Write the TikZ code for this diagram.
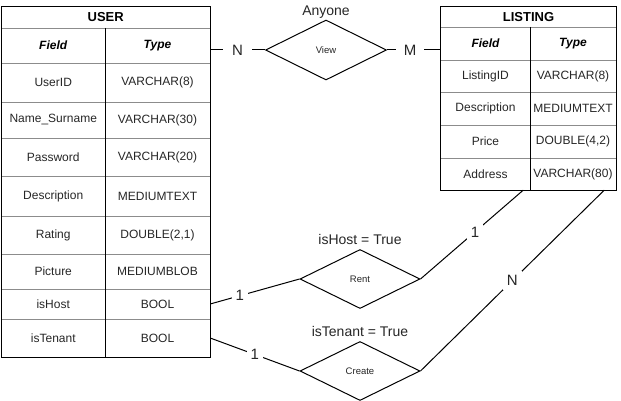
\documentclass[tikz,border=0pt]{standalone}
\usepackage{fontspec}
\setmainfont{Liberation Sans}
\usetikzlibrary{shapes.geometric,calc}
\definecolor{rowgray}{gray}{0.55}
\newcommand\mkcell[7][]{%
  \node[cell,#1,minimum width={(#4-#3)*1pt},minimum height={(#6-#5)*1pt}] (#2) at ({(#3+#4)/2},{(#5+#6)/2}) {#7};}
\begin{document}
\begin{tikzpicture}[x=1pt,y=-1pt,
  cell/.style={inner sep=0pt,draw=none,font=\fontsize{12}{14}\selectfont,text=black!85},
  headcell/.style={font=\fontsize{13}{15}\selectfont\bfseries,text=black},
  colhead/.style={font=\fontsize{12}{14}\selectfont\bfseries\itshape,text=black},
  rowline/.style={draw=rowgray,line width=1pt},
  frame/.style={draw=black,line width=1pt},
  rel/.style={diamond,draw=black,line width=1pt,inner sep=0pt,minimum width=120pt,minimum height=59pt,font=\fontsize{9.5}{11}\selectfont,text=black!85},
  relcap/.style={anchor=base,inner sep=0pt,font=\fontsize{14}{16}\selectfont,text=black!85},
  conn/.style={draw=black,line width=1pt},
  card/.style={fill=white,inner sep=4pt,font=\fontsize{15}{17}\selectfont,text=black!85},
]
\useasboundingbox (0,0) rectangle (621,401);

% USER table
\mkcell[headcell]{uh}{1.5}{210}{7}{28}{USER}
\mkcell[colhead]{u1-f}{1.5}{105}{28}{63}{Field}
\mkcell[colhead]{u1-t}{105}{210}{28}{63}{Type}
\foreach \n/\ya/\yb/\f/\t in {2/63/102/UserID/VARCHAR(8), 3/102/138/Name\_Surname/VARCHAR(30), 4/138/176/Password/VARCHAR(20), 5/176/216/Description/MEDIUMTEXT, 6/216/254/Rating/{DOUBLE(2,1)}, 7/254/289/Picture/MEDIUMBLOB, 8/289/319/isHost/BOOL, 9/319/357/isTenant/BOOL}{
  \mkcell{u\n-f}{1.5}{105}{\ya}{\yb}{\f}
  \mkcell{u\n-t}{105}{210}{\ya}{\yb}{\t}
}
\draw[rowline] (uh.south west) -- (uh.south east);
\foreach \n in {1,...,8} \draw[rowline] (u\n-f.south west) -- (u\n-t.south east);
\draw[frame] (uh.north west) rectangle (u9-t.south east);
\draw[frame] (u1-f.north east) -- (u9-f.south east);

% LISTING table
\mkcell[headcell]{lh}{441}{616}{7}{27}{LISTING}
\mkcell[colhead]{l1-f}{441}{530}{27}{60}{Field}
\mkcell[colhead]{l1-t}{530}{616}{27}{60}{Type}
\foreach \n/\ya/\yb/\f/\t in {2/60/92/ListingID/VARCHAR(8), 3/92/125/Description/MEDIUMTEXT, 4/125/158/Price/{DOUBLE(4,2)}, 5/158/190/Address/VARCHAR(80)}{
  \mkcell{l\n-f}{441}{530}{\ya}{\yb}{\f}
  \mkcell{l\n-t}{530}{616}{\ya}{\yb}{\t}
}
\draw[rowline] (lh.south west) -- (lh.south east);
\foreach \n in {1,...,4} \draw[rowline] (l\n-f.south west) -- (l\n-t.south east);
\draw[frame] (lh.north west) rectangle (l5-t.south east);
\draw[frame] (l1-f.north east) -- (l5-f.south east);

% relationships
\node[rel,minimum width=121pt,minimum height=60pt] (view) at (326,50) {View};
\node[rel] (rent) at (360,279) {Rent};
\node[rel] (create) at (360,371) {Create};

\node[relcap] (anyone) at (326,16) {Anyone};
\node[relcap] (hostcap) at (360,244.5) {isHost = True};
\node[relcap] (tencap) at (360,336) {isTenant = True};

% connectors
\coordinate (lhook) at ($(l5-f.south east)+(-7,0)$);
\coordinate (lnhook) at ($(l5-t.south east)+(-12,0)$);
\draw[conn] (u1-t.east |- view.west) -- node[card,inner xsep=9pt]{N} (view.west);
\draw[conn] (view.east) -- node[card,inner xsep=8pt,pos=0.43]{M} (view.east -| l1-f.west);
\draw[conn] (u8-t.east) -- node[card,pos=0.33]{1} (rent.west);
\draw[conn] (u9-t.east) -- node[card]{1} (create.west);
\draw[conn] (rent.east) -- node[card,pos=0.53]{1} (lhook);
\draw[conn] (create.east) -- node[card]{N} (lnhook);
\end{tikzpicture}
\end{document}
